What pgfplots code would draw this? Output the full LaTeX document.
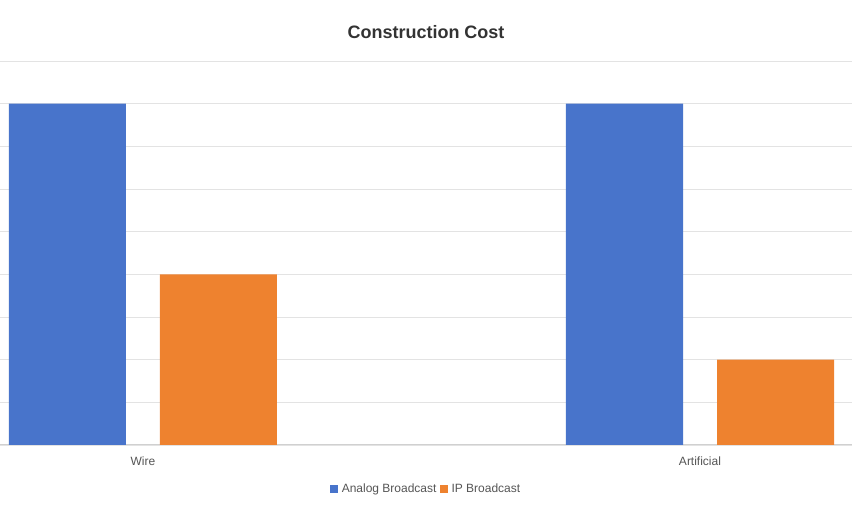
\documentclass[border=0pt]{standalone}
\usepackage{pgfplots}
\pgfplotsset{compat=1.18}
\usepackage{fontspec}
\setmainfont{Liberation Sans}
\definecolor{cblue}{HTML}{4874CB}
\definecolor{corange}{HTML}{EE822F}
\definecolor{gridc}{HTML}{E3E3E3}
\definecolor{axc}{HTML}{D0D0D0}
\definecolor{txt}{HTML}{555555}
\definecolor{ttl}{HTML}{333333}
\begin{document}
\begin{tikzpicture}
\path[use as bounding box] (0,0) rectangle (852bp,508bp);
\begin{axis}[
  at={(0,63bp)}, anchor=south west,
  scale only axis, width=852bp, height=384bp,
  xmin=-0.2567, xmax=1.2729, ymin=0, ymax=9,
  xtick={0,1}, xticklabels={Wire,Artificial},
  ytick={0,1,...,9}, yticklabels={},
  ymajorgrids, grid style={gridc, line width=0.8bp},
  axis x line=bottom, axis y line*=left,
  x axis line style={axc, line width=1bp, -},
  y axis line style={draw=none},
  major tick length=0pt,
  xticklabel style={font=\fontsize{12bp}{14bp}\selectfont, text=txt, yshift=-8bp},
  title={Construction Cost},
  title style={font=\fontsize{18bp}{21bp}\selectfont\bfseries, text=ttl, at={(0.5,1)}, anchor=center, yshift=23bp},
  legend style={at={(0.5,0)}, anchor=center, yshift=-44bp, draw=none, fill=none,
    font=\fontsize{12bp}{14bp}\selectfont, text=txt, legend columns=-1,
    /tikz/every even column/.append style={column sep=1bp}},
  ybar, bar width=117bp,
  legend image code/.code={\fill[#1,draw=none] (0bp,-4bp) rectangle (8bp,4bp);\path (0bp,0bp) (10bp,0bp);},
]
\addplot[fill=cblue, draw=none, bar shift=-75.5bp] coordinates {(0,8) (1,8)};
\addplot[fill=corange, draw=none, bar shift=75.5bp] coordinates {(0,4) (1,2)};
\legend{Analog Broadcast, IP Broadcast}
\end{axis}
\end{tikzpicture}
\end{document}
